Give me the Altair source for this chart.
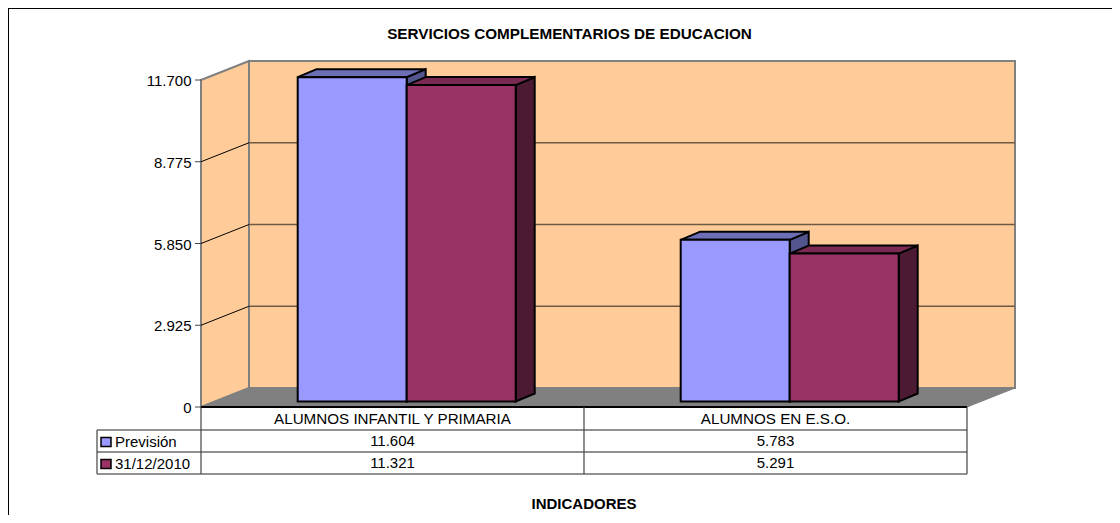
import altair as alt
import pandas as pd

TITLE = "SERVICIOS COMPLEMENTARIOS DE EDUCACION"
X_TITLE = "INDICADORES"
CATEGORIES = ["ALUMNOS INFANTIL Y PRIMARIA", "ALUMNOS EN E.S.O."]
SERIES = ["Previsión", "31/12/2010"]
PREVISION = [11604, 5783]
DIC2010 = [11321, 5291]
VALUES = [PREVISION, DIC2010]
Y_TICKS = [0, 2925, 5850, 8775, 11700]

FRONT_COL = ["#9999FF", "#993366"]
TOP_COL = ["#6C6EB6", "#7A2A52"]
SIDE_COL = ["#52558E", "#4D1A33"]
FONT = "Liberation Sans"
W, H = 1104, 507

# pixel calibration of the two linear scales (page pixels)
X0, UPX = 201.0, 383.0
Y0, VPX = 407.0, 327.0 / 11700.0
def X(px): return (px - X0) / UPX
def Y(py): return (Y0 - py) / VPX
DX, DY = 48 / UPX, 19 / VPX          # full depth of the box
BDX0, BDY0 = 14.2 / UPX, 5.5 / VPX   # depth to bar front
BDX, BDY = 19 / UPX, 8 / VPX         # depth of the bars
BW = 109 / UPX

xs = alt.Scale(domain=[X(8), X(8 + W)], nice=False, zero=False)
ys = alt.Scale(domain=[Y(8 + H), Y(8)], nice=False, zero=False)
def xe(f="x"): return alt.X(f"{f}:Q", scale=xs, axis=None)
def ye(f="y"): return alt.Y(f"{f}:Q", scale=ys, axis=None)
x2 = lambda f="x2": alt.X2(f"{f}:Q")
y2 = lambda f="y2": alt.Y2(f"{f}:Q")

def vface(x0, b0, t0, x1, b1, t1, **kw):
    """parallelogram with vertical sides"""
    d = pd.DataFrame({"x": [x0, x1], "y": [t0, t1], "y2": [b0, b1]})
    return alt.Chart(d).mark_area(**kw).encode(x=xe(), y=ye(), y2=y2())

def hface(y0, l0, r0, y1, l1, r1, **kw):
    """parallelogram with horizontal sides"""
    d = pd.DataFrame({"y": [y0, y1], "x": [l0, l1], "x2": [r0, r1]})
    return alt.Chart(d).mark_area(orient="horizontal", **kw).encode(y=ye(), x=xe(), x2=x2())

def seg(x0, y0, x1, y1, color="#000000", width=1.0):
    d = pd.DataFrame({"x": [x0], "y": [y0], "x2": [x1], "y2": [y1]})
    return alt.Chart(d).mark_rule(color=color, strokeWidth=width).encode(
        x=xe(), y=ye(), x2=x2(), y2=y2())

def txt(s, px, y, size=15.0, align="center", bold=False, dy=0):
    d = pd.DataFrame({"x": [X(px)], "y": [y], "t": [s]})
    return alt.Chart(d).mark_text(font=FONT, fontSize=size, align=align, baseline="middle", dy=dy,
                                  fontWeight="bold" if bold else "normal", color="#000000").encode(
        x=xe(), y=ye(), text="t:N")

fmt = lambda v: f"{v:,}".replace(",", ".")
TOP = Y_TICKS[-1]
n = len(CATEGORIES)
layers = []

# frame
layers.append(seg(X(8), Y(8), X(8 + W), Y(8), "#000000", 2))
layers.append(seg(X(8), Y(8), X(8), Y(8 + H), "#000000", 2))

# walls and floor
WALL = "#FFCC99"; GRAY = "#808080"
layers.append(vface(0, 0, TOP, DX, DY, TOP + DY, color=WALL, stroke=GRAY, strokeWidth=2))
back = pd.DataFrame({"x": [DX], "x2": [n + DX], "y": [DY], "y2": [TOP + DY]})
layers.append(alt.Chart(back).mark_rect(fill=WALL, stroke=GRAY, strokeWidth=2).encode(
    x=xe(), x2=x2(), y=ye(), y2=y2()))
for t in Y_TICKS[1:-1]:
    layers.append(seg(0, t, DX, t + DY, "#000000", 1))
    layers.append(seg(DX, t + DY, n + DX, t + DY, "#6E5A44", 1.5))
layers.append(hface(0, 0, n, DY, DX, n + DX, color=GRAY, stroke=GRAY, strokeWidth=1))
layers.append(seg(0, 0, n, 0, "#000000", 2))

# value axis: ticks and labels
for t in Y_TICKS:
    layers.append(seg(X(195), t, 0, t, "#444444", 1))
    layers.append(txt(fmt(t), 191.5, t, size=15, align="right", dy=1))

# bars
for c in range(n):
    for s, vals in enumerate(VALUES):
        v = vals[c]
        l = c + 0.5 + BDX0 + (s - 1) * BW
        r = l + BW
        bot = BDY0
        top = BDY0 + v
        kw = dict(stroke="#000000", strokeWidth=2, strokeJoin="miter")
        layers.append(vface(r, bot, top, r + BDX, bot + BDY, top + BDY, color=SIDE_COL[s], **kw))
        layers.append(hface(top, l, r, top + BDY, l + BDX, r + BDX, color=TOP_COL[s], **kw))
        front = pd.DataFrame({"x": [l], "x2": [r], "y": [bot], "y2": [top], "cat": [CATEGORIES[c]], "serie": [SERIES[s]]})
        layers.append(alt.Chart(front).mark_rect(fill=FRONT_COL[s], **kw).encode(
            x=xe(), x2=x2(), y=ye(), y2=y2()))

# data table
R0, R1, R2, R3 = 407, 430, 452, 474
TL = 97
for py in (R1, R2, R3):
    layers.append(seg(X(TL), Y(py), n, Y(py), "#222222", 1))
layers.append(seg(X(TL), Y(R1), X(TL), Y(R3), "#444444", 1.2))
for u in range(n + 1):
    layers.append(seg(u, 0, u, Y(R3), "#444444", 1.2))
for c, name in enumerate(CATEGORIES):
    layers.append(txt(name, X0 + UPX * (c + 0.5), Y(419), size=15.2))
    layers.append(txt(fmt(PREVISION[c]), X0 + UPX * (c + 0.5), Y(441), size=15))
    layers.append(txt(fmt(DIC2010[c]), X0 + UPX * (c + 0.5), Y(463), size=15))
for s, (name, py) in enumerate(zip(SERIES, (442, 464))):
    key = pd.DataFrame({"x": [X(101)], "x2": [X(111)], "y": [Y(py - 4.5)], "y2": [Y(py + 4.5)]})
    layers.append(alt.Chart(key).mark_rect(fill=FRONT_COL[s], stroke="#000000", strokeWidth=1.5).encode(
        x=xe(), x2=x2(), y=ye(), y2=y2()))
    layers.append(txt(name, 115, Y(py), size=15, align="left"))

layers.append(txt(TITLE, 569.5, Y(34), size=15.25, bold=True))
layers.append(txt(X_TITLE, 584, Y(504), size=15, bold=True))

chart = alt.layer(*layers).properties(
    width=W, height=H, padding=0, autosize=alt.AutoSizeParams(type="none"),
    background="#FFFFFF"
).configure_view(strokeWidth=0)
chart.save("out.html", embed_options={"renderer": "svg", "actions": False})
